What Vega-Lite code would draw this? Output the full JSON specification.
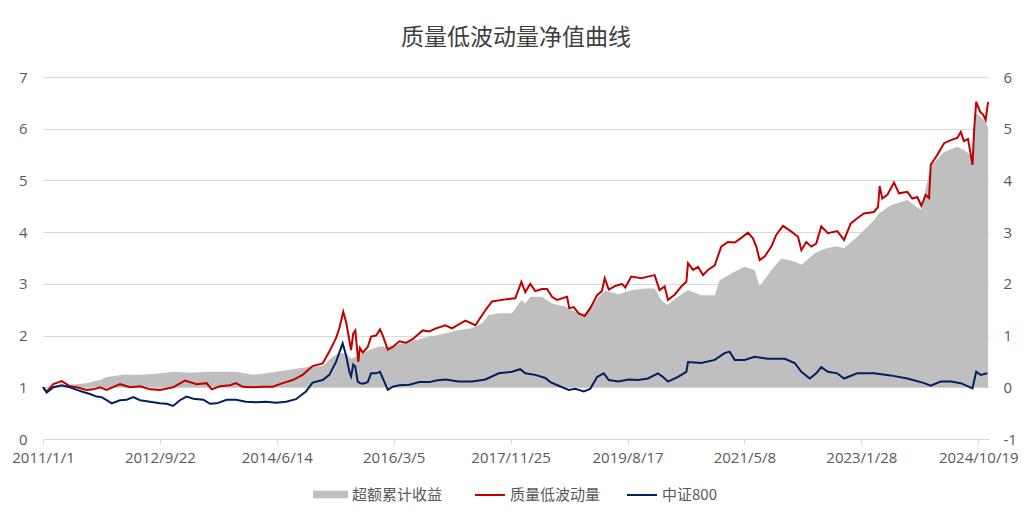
{
"$schema": "https://vega.github.io/schema/vega-lite/v6.json",
"width": 946, "height": 362,
"autosize": {"type": "none"},
"padding": {"left": 43, "top": 77, "right": 43, "bottom": 80},
"background": "white",
"title": {"text": "质量低波动量净值曲线", "font": "Noto Sans CJK SC", "fontSize": 23, "fontWeight": "normal", "color": "#404040", "anchor": "middle", "offset": 20},
"config": {"view": {"stroke": null}, "font": "Open Sans"},
"datasets": {
"excess": [
{"date":"2011/01/01","series":"超额累计收益","value":0.00},
{"date":"2011/05/27","series":"超额累计收益","value":0.05},
{"date":"2011/08/25","series":"超额累计收益","value":0.08},
{"date":"2011/09/29","series":"超额累计收益","value":0.11},
{"date":"2011/11/04","series":"超额累计收益","value":0.14},
{"date":"2011/12/10","series":"超额累计收益","value":0.20},
{"date":"2012/03/09","series":"超额累计收益","value":0.24},
{"date":"2012/06/07","series":"超额累计收益","value":0.24},
{"date":"2012/09/05","series":"超额累计收益","value":0.26},
{"date":"2012/12/02","series":"超额累计收益","value":0.30},
{"date":"2013/03/03","series":"超额累计收益","value":0.28},
{"date":"2013/06/01","series":"超额累计收益","value":0.30},
{"date":"2013/08/30","series":"超额累计收益","value":0.30},
{"date":"2013/11/06","series":"超额累计收益","value":0.30},
{"date":"2014/02/04","series":"超额累计收益","value":0.24},
{"date":"2014/05/05","series":"超额累计收益","value":0.28},
{"date":"2014/08/03","series":"超额累计收益","value":0.33},
{"date":"2014/10/31","series":"超额累计收益","value":0.38},
{"date":"2014/12/24","series":"超额累计收益","value":0.40},
{"date":"2015/02/16","series":"超额累计收益","value":0.41},
{"date":"2015/04/11","series":"超额累计收益","value":0.59},
{"date":"2015/05/17","series":"超额累计收益","value":0.66},
{"date":"2015/06/22","series":"超额累计收益","value":0.66},
{"date":"2015/07/19","series":"超额累计收益","value":0.55},
{"date":"2015/09/02","series":"超额累计收益","value":0.62},
{"date":"2015/10/25","series":"超额累计收益","value":0.72},
{"date":"2015/12/18","series":"超额累计收益","value":0.79},
{"date":"2016/02/10","series":"超额累计收益","value":0.79},
{"date":"2016/04/22","series":"超额累计收益","value":0.85},
{"date":"2016/07/21","series":"超额累计收益","value":0.93},
{"date":"2016/09/13","series":"超额累计收益","value":0.98},
{"date":"2016/10/19","series":"超额累计收益","value":1.00},
{"date":"2016/12/08","series":"超额累计收益","value":1.04},
{"date":"2017/02/18","series":"超额累计收益","value":1.11},
{"date":"2017/05/01","series":"超额累计收益","value":1.14},
{"date":"2017/06/24","series":"超额累计收益","value":1.24},
{"date":"2017/07/30","series":"超额累计收益","value":1.40},
{"date":"2017/09/22","series":"超额累计收益","value":1.43},
{"date":"2017/12/02","series":"超额累计收益","value":1.43},
{"date":"2018/01/22","series":"超额累计收益","value":1.69},
{"date":"2018/02/12","series":"超额累计收益","value":1.62},
{"date":"2018/03/11","series":"超额累计收益","value":1.75},
{"date":"2018/05/13","series":"超额累计收益","value":1.75},
{"date":"2018/07/06","series":"超额累计收益","value":1.62},
{"date":"2018/09/16","series":"超额累计收益","value":1.56},
{"date":"2018/11/09","series":"超额累计收益","value":1.46},
{"date":"2018/12/29","series":"超额累计收益","value":1.40},
{"date":"2019/02/07","series":"超额累计收益","value":1.56},
{"date":"2019/03/15","series":"超额累计收益","value":1.75},
{"date":"2019/04/19","series":"超额累计收益","value":1.86},
{"date":"2019/06/30","series":"超额累计收益","value":1.80},
{"date":"2019/09/10","series":"超额累计收益","value":1.88},
{"date":"2019/11/18","series":"超额累计收益","value":1.91},
{"date":"2020/01/10","series":"超额累计收益","value":1.91},
{"date":"2020/02/15","series":"超额累计收益","value":1.69},
{"date":"2020/03/18","series":"超额累计收益","value":1.59},
{"date":"2020/05/15","series":"超额累计收益","value":1.75},
{"date":"2020/07/08","series":"超额累计收益","value":1.88},
{"date":"2020/09/17","series":"超额累计收益","value":1.78},
{"date":"2020/11/29","series":"超额累计收益","value":1.78},
{"date":"2020/12/26","series":"超额累计收益","value":2.07},
{"date":"2021/02/26","series":"超额累计收益","value":2.20},
{"date":"2021/05/09","series":"超额累计收益","value":2.33},
{"date":"2021/07/02","series":"超额累计收益","value":2.27},
{"date":"2021/07/29","series":"超额累计收益","value":1.95},
{"date":"2021/09/30","series":"超额累计收益","value":2.27},
{"date":"2021/11/23","series":"超额累计收益","value":2.49},
{"date":"2022/02/03","series":"超额累计收益","value":2.43},
{"date":"2022/03/11","series":"超额累计收益","value":2.37},
{"date":"2022/05/22","series":"超额累计收益","value":2.59},
{"date":"2022/06/26","series":"超额累计收益","value":2.65},
{"date":"2022/08/01","series":"超额累计收益","value":2.70},
{"date":"2022/09/20","series":"超额累计收益","value":2.72},
{"date":"2022/10/27","series":"超额累计收益","value":2.69},
{"date":"2023/01/06","series":"超额累计收益","value":2.91},
{"date":"2023/04/06","series":"超额累计收益","value":3.23},
{"date":"2023/05/03","series":"超额累计收益","value":3.36},
{"date":"2023/07/05","series":"超额累计收益","value":3.52},
{"date":"2023/10/03","series":"超额累计收益","value":3.62},
{"date":"2023/12/14","series":"超额累计收益","value":3.43},
{"date":"2024/02/06","series":"超额累计收益","value":4.27},
{"date":"2024/04/18","series":"超额累计收益","value":4.55},
{"date":"2024/06/28","series":"超额累计收益","value":4.65},
{"date":"2024/08/03","series":"超额累计收益","value":4.59},
{"date":"2024/09/18","series":"超额累计收益","value":4.46},
{"date":"2024/10/08","series":"超额累计收益","value":5.30},
{"date":"2024/11/19","series":"超额累计收益","value":5.17},
{"date":"2024/12/11","series":"超额累计收益","value":5.04}
],
"nav": [
{"date":"2011/01/01","series":"质量低波动量","value":1.00},
{"date":"2011/01/21","series":"质量低波动量","value":0.92},
{"date":"2011/02/26","series":"质量低波动量","value":1.06},
{"date":"2011/04/12","series":"质量低波动量","value":1.12},
{"date":"2011/05/27","series":"质量低波动量","value":1.02},
{"date":"2011/07/02","series":"质量低波动量","value":1.00},
{"date":"2011/08/25","series":"质量低波动量","value":0.95},
{"date":"2011/09/29","series":"质量低波动量","value":0.96},
{"date":"2011/11/04","series":"质量低波动量","value":1.00},
{"date":"2011/12/10","series":"质量低波动量","value":0.95},
{"date":"2012/02/20","series":"质量低波动量","value":1.06},
{"date":"2012/04/14","series":"质量低波动量","value":1.00},
{"date":"2012/06/07","series":"质量低波动量","value":1.02},
{"date":"2012/07/31","series":"质量低波动量","value":0.96},
{"date":"2012/09/22","series":"质量低波动量","value":0.95},
{"date":"2012/12/02","series":"质量低波动量","value":1.00},
{"date":"2013/02/04","series":"质量低波动量","value":1.13},
{"date":"2013/04/08","series":"质量低波动量","value":1.06},
{"date":"2013/06/01","series":"质量低波动量","value":1.08},
{"date":"2013/06/28","series":"质量低波动量","value":0.96},
{"date":"2013/08/12","series":"质量低波动量","value":1.02},
{"date":"2013/10/05","series":"质量低波动量","value":1.04},
{"date":"2013/11/06","series":"质量低波动量","value":1.08},
{"date":"2013/12/12","series":"质量低波动量","value":1.01},
{"date":"2014/02/04","series":"质量低波动量","value":1.00},
{"date":"2014/03/30","series":"质量低波动量","value":1.01},
{"date":"2014/05/23","series":"质量低波动量","value":1.01},
{"date":"2014/07/16","series":"质量低波动量","value":1.08},
{"date":"2014/09/08","series":"质量低波动量","value":1.14},
{"date":"2014/10/31","series":"质量低波动量","value":1.24},
{"date":"2014/12/24","series":"质量低波动量","value":1.41},
{"date":"2015/02/16","series":"质量低波动量","value":1.46},
{"date":"2015/03/24","series":"质量低波动量","value":1.69},
{"date":"2015/04/29","series":"质量低波动量","value":1.95},
{"date":"2015/05/17","series":"质量低波动量","value":2.14},
{"date":"2015/06/07","series":"质量低波动量","value":2.46},
{"date":"2015/06/22","series":"质量低波动量","value":2.27},
{"date":"2015/07/10","series":"质量低波动量","value":1.91},
{"date":"2015/07/19","series":"质量低波动量","value":1.72},
{"date":"2015/07/31","series":"质量低波动量","value":2.04},
{"date":"2015/08/11","series":"质量低波动量","value":2.10},
{"date":"2015/08/19","series":"质量低波动量","value":1.80},
{"date":"2015/08/27","series":"质量低波动量","value":1.49},
{"date":"2015/09/05","series":"质量低波动量","value":1.76},
{"date":"2015/09/20","series":"质量低波动量","value":1.67},
{"date":"2015/10/17","series":"质量低波动量","value":1.78},
{"date":"2015/11/04","series":"质量低波动量","value":1.98},
{"date":"2015/12/01","series":"质量低波动量","value":2.00},
{"date":"2015/12/22","series":"质量低波动量","value":2.12},
{"date":"2016/01/06","series":"质量低波动量","value":2.00},
{"date":"2016/02/02","series":"质量低波动量","value":1.73},
{"date":"2016/02/29","series":"质量低波动量","value":1.78},
{"date":"2016/04/04","series":"质量低波动量","value":1.89},
{"date":"2016/05/10","series":"质量低波动量","value":1.86},
{"date":"2016/06/15","series":"质量低波动量","value":1.93},
{"date":"2016/08/08","series":"质量低波动量","value":2.10},
{"date":"2016/09/13","series":"质量低波动量","value":2.08},
{"date":"2016/10/19","series":"质量低波动量","value":2.14},
{"date":"2016/12/08","series":"质量低波动量","value":2.20},
{"date":"2017/01/13","series":"质量低波动量","value":2.14},
{"date":"2017/03/26","series":"质量低波动量","value":2.29},
{"date":"2017/05/19","series":"质量低波动量","value":2.20},
{"date":"2017/07/12","series":"质量低波动量","value":2.49},
{"date":"2017/08/17","series":"质量低波动量","value":2.66},
{"date":"2017/10/27","series":"质量低波动量","value":2.70},
{"date":"2017/12/20","series":"质量低波动量","value":2.72},
{"date":"2018/01/22","series":"质量低波动量","value":3.04},
{"date":"2018/02/12","series":"质量低波动量","value":2.84},
{"date":"2018/03/11","series":"质量低波动量","value":3.00},
{"date":"2018/04/07","series":"质量低波动量","value":2.86},
{"date":"2018/05/13","series":"质量低波动量","value":2.90},
{"date":"2018/06/09","series":"质量低波动量","value":2.90},
{"date":"2018/07/06","series":"质量低波动量","value":2.75},
{"date":"2018/08/02","series":"质量低波动量","value":2.69},
{"date":"2018/08/29","series":"质量低波动量","value":2.72},
{"date":"2018/09/25","series":"质量低波动量","value":2.75},
{"date":"2018/10/07","series":"质量低波动量","value":2.53},
{"date":"2018/10/31","series":"质量低波动量","value":2.55},
{"date":"2018/11/27","series":"质量低波动量","value":2.43},
{"date":"2018/12/29","series":"质量低波动量","value":2.38},
{"date":"2019/01/28","series":"质量低波动量","value":2.53},
{"date":"2019/03/06","series":"质量低波动量","value":2.78},
{"date":"2019/04/01","series":"质量低波动量","value":2.86},
{"date":"2019/04/16","series":"质量低波动量","value":3.11},
{"date":"2019/05/08","series":"质量低波动量","value":2.89},
{"date":"2019/06/12","series":"质量低波动量","value":2.96},
{"date":"2019/07/18","series":"质量低波动量","value":3.00},
{"date":"2019/08/05","series":"质量低波动量","value":2.93},
{"date":"2019/09/06","series":"质量低波动量","value":3.14},
{"date":"2019/10/30","series":"质量低波动量","value":3.11},
{"date":"2019/12/05","series":"质量低波动量","value":3.14},
{"date":"2020/01/10","series":"质量低波动量","value":3.17},
{"date":"2020/02/06","series":"质量低波动量","value":2.88},
{"date":"2020/03/04","series":"质量低波动量","value":2.95},
{"date":"2020/03/22","series":"质量低波动量","value":2.69},
{"date":"2020/04/27","series":"质量低波动量","value":2.79},
{"date":"2020/06/02","series":"质量低波动量","value":2.95},
{"date":"2020/06/29","series":"质量低波动量","value":3.04},
{"date":"2020/07/08","series":"质量低波动量","value":3.40},
{"date":"2020/08/04","series":"质量低波动量","value":3.27},
{"date":"2020/08/31","series":"质量低波动量","value":3.33},
{"date":"2020/09/27","series":"质量低波动量","value":3.17},
{"date":"2020/10/24","series":"质量低波动量","value":3.27},
{"date":"2020/11/29","series":"质量低波动量","value":3.36},
{"date":"2021/01/03","series":"质量低波动量","value":3.72},
{"date":"2021/02/08","series":"质量低波动量","value":3.81},
{"date":"2021/03/17","series":"质量低波动量","value":3.80},
{"date":"2021/04/21","series":"质量低波动量","value":3.89},
{"date":"2021/05/27","series":"质量低波动量","value":3.99},
{"date":"2021/06/23","series":"质量低波动量","value":3.88},
{"date":"2021/07/11","series":"质量低波动量","value":3.72},
{"date":"2021/07/29","series":"质量低波动量","value":3.46},
{"date":"2021/08/25","series":"质量低波动量","value":3.53},
{"date":"2021/09/30","series":"质量低波动量","value":3.72},
{"date":"2021/10/27","series":"质量低波动量","value":3.95},
{"date":"2021/12/02","series":"质量低波动量","value":4.12},
{"date":"2022/01/16","series":"质量低波动量","value":4.01},
{"date":"2022/02/21","series":"质量低波动量","value":3.91},
{"date":"2022/03/11","series":"质量低波动量","value":3.65},
{"date":"2022/04/06","series":"质量低波动量","value":3.81},
{"date":"2022/05/03","series":"质量低波动量","value":3.72},
{"date":"2022/05/30","series":"质量低波动量","value":3.78},
{"date":"2022/06/26","series":"质量低波动量","value":4.11},
{"date":"2022/08/01","series":"质量低波动量","value":3.98},
{"date":"2022/09/20","series":"质量低波动量","value":4.02},
{"date":"2022/10/27","series":"质量低波动量","value":3.85},
{"date":"2022/12/02","series":"质量低波动量","value":4.17},
{"date":"2023/01/06","series":"质量低波动量","value":4.27},
{"date":"2023/02/11","series":"质量低波动量","value":4.36},
{"date":"2023/04/06","series":"质量低波动量","value":4.39},
{"date":"2023/04/28","series":"质量低波动量","value":4.49},
{"date":"2023/05/07","series":"质量低波动量","value":4.89},
{"date":"2023/05/21","series":"质量低波动量","value":4.65},
{"date":"2023/06/17","series":"质量低波动量","value":4.72},
{"date":"2023/07/23","series":"质量低波动量","value":4.96},
{"date":"2023/08/19","series":"质量低波动量","value":4.75},
{"date":"2023/10/03","series":"质量低波动量","value":4.78},
{"date":"2023/10/30","series":"质量低波动量","value":4.65},
{"date":"2023/11/26","series":"质量低波动量","value":4.68},
{"date":"2023/12/17","series":"质量低波动量","value":4.51},
{"date":"2024/01/10","series":"质量低波动量","value":4.72},
{"date":"2024/01/28","series":"质量低波动量","value":4.66},
{"date":"2024/02/06","series":"质量低波动量","value":5.30},
{"date":"2024/03/12","series":"质量低波动量","value":5.49},
{"date":"2024/04/18","series":"质量低波动量","value":5.72},
{"date":"2024/05/24","series":"质量低波动量","value":5.78},
{"date":"2024/06/28","series":"质量低波动量","value":5.82},
{"date":"2024/07/17","series":"质量低波动量","value":5.94},
{"date":"2024/08/03","series":"质量低波动量","value":5.76},
{"date":"2024/08/25","series":"质量低波动量","value":5.80},
{"date":"2024/09/18","series":"质量低波动量","value":5.30},
{"date":"2024/09/27","series":"质量低波动量","value":5.98},
{"date":"2024/10/08","series":"质量低波动量","value":6.52},
{"date":"2024/10/29","series":"质量低波动量","value":6.33},
{"date":"2024/11/15","series":"质量低波动量","value":6.27},
{"date":"2024/11/28","series":"质量低波动量","value":6.17},
{"date":"2024/12/11","series":"质量低波动量","value":6.52},
{"date":"2011/01/01","series":"中证800","value":1.00},
{"date":"2011/01/21","series":"中证800","value":0.90},
{"date":"2011/02/26","series":"中证800","value":1.00},
{"date":"2011/04/12","series":"中证800","value":1.04},
{"date":"2011/05/27","series":"中证800","value":1.00},
{"date":"2011/07/02","series":"中证800","value":0.95},
{"date":"2011/08/06","series":"中证800","value":0.91},
{"date":"2011/09/11","series":"中证800","value":0.87},
{"date":"2011/10/17","series":"中证800","value":0.82},
{"date":"2011/11/13","series":"中证800","value":0.81},
{"date":"2011/12/10","series":"中证800","value":0.75},
{"date":"2012/01/06","series":"中证800","value":0.69},
{"date":"2012/02/20","series":"中证800","value":0.75},
{"date":"2012/03/27","series":"中证800","value":0.76},
{"date":"2012/05/02","series":"中证800","value":0.81},
{"date":"2012/06/07","series":"中证800","value":0.75},
{"date":"2012/07/31","series":"中证800","value":0.72},
{"date":"2012/09/22","series":"中证800","value":0.69},
{"date":"2012/10/29","series":"中证800","value":0.68},
{"date":"2012/12/02","series":"中证800","value":0.64},
{"date":"2013/01/08","series":"中证800","value":0.75},
{"date":"2013/02/13","series":"中证800","value":0.82},
{"date":"2013/03/21","series":"中证800","value":0.78},
{"date":"2013/05/14","series":"中证800","value":0.76},
{"date":"2013/06/19","series":"中证800","value":0.68},
{"date":"2013/07/25","series":"中证800","value":0.69},
{"date":"2013/09/17","series":"中证800","value":0.76},
{"date":"2013/11/06","series":"中证800","value":0.76},
{"date":"2013/12/30","series":"中证800","value":0.72},
{"date":"2014/02/22","series":"中证800","value":0.71},
{"date":"2014/04/17","series":"中证800","value":0.72},
{"date":"2014/06/10","series":"中证800","value":0.70},
{"date":"2014/08/03","series":"中证800","value":0.72},
{"date":"2014/09/25","series":"中证800","value":0.77},
{"date":"2014/11/18","series":"中证800","value":0.92},
{"date":"2014/12/24","series":"中证800","value":1.09},
{"date":"2015/02/16","series":"中证800","value":1.14},
{"date":"2015/03/24","series":"中证800","value":1.24},
{"date":"2015/04/29","series":"中证800","value":1.49},
{"date":"2015/06/04","series":"中证800","value":1.85},
{"date":"2015/06/22","series":"中证800","value":1.62},
{"date":"2015/07/10","series":"中证800","value":1.30},
{"date":"2015/07/19","series":"中证800","value":1.21},
{"date":"2015/07/31","series":"中证800","value":1.44},
{"date":"2015/08/11","series":"中证800","value":1.40},
{"date":"2015/08/24","series":"中证800","value":1.11},
{"date":"2015/09/05","series":"中证800","value":1.08},
{"date":"2015/09/20","series":"中证800","value":1.07},
{"date":"2015/10/17","series":"中证800","value":1.10},
{"date":"2015/11/04","series":"中证800","value":1.27},
{"date":"2015/12/01","series":"中证800","value":1.27},
{"date":"2015/12/22","series":"中证800","value":1.30},
{"date":"2016/01/14","series":"中证800","value":1.11},
{"date":"2016/02/02","series":"中证800","value":0.95},
{"date":"2016/02/29","series":"中证800","value":1.01},
{"date":"2016/04/04","series":"中证800","value":1.04},
{"date":"2016/05/28","series":"中证800","value":1.05},
{"date":"2016/07/21","series":"中证800","value":1.10},
{"date":"2016/09/13","series":"中证800","value":1.10},
{"date":"2016/10/19","series":"中证800","value":1.13},
{"date":"2016/12/08","series":"中证800","value":1.15},
{"date":"2017/02/18","series":"中证800","value":1.11},
{"date":"2017/05/01","series":"中证800","value":1.11},
{"date":"2017/07/12","series":"中证800","value":1.15},
{"date":"2017/09/22","series":"中证800","value":1.27},
{"date":"2017/12/02","series":"中证800","value":1.30},
{"date":"2018/01/16","series":"中证800","value":1.35},
{"date":"2018/02/12","series":"中证800","value":1.27},
{"date":"2018/04/07","series":"中证800","value":1.24},
{"date":"2018/05/31","series":"中证800","value":1.18},
{"date":"2018/06/27","series":"中证800","value":1.10},
{"date":"2018/08/11","series":"中证800","value":1.03},
{"date":"2018/10/04","series":"中证800","value":0.95},
{"date":"2018/11/09","series":"中证800","value":0.97},
{"date":"2018/12/24","series":"中证800","value":0.92},
{"date":"2019/01/28","series":"中证800","value":0.97},
{"date":"2019/03/06","series":"中证800","value":1.20},
{"date":"2019/04/11","series":"中证800","value":1.27},
{"date":"2019/05/08","series":"中证800","value":1.14},
{"date":"2019/06/30","series":"中证800","value":1.11},
{"date":"2019/08/23","series":"中证800","value":1.15},
{"date":"2019/10/13","series":"中证800","value":1.14},
{"date":"2019/12/05","series":"中证800","value":1.17},
{"date":"2020/01/28","series":"中证800","value":1.27},
{"date":"2020/02/24","series":"中证800","value":1.20},
{"date":"2020/03/22","series":"中证800","value":1.11},
{"date":"2020/05/15","series":"中证800","value":1.20},
{"date":"2020/06/29","series":"中证800","value":1.30},
{"date":"2020/07/08","series":"中证800","value":1.49},
{"date":"2020/09/17","series":"中证800","value":1.47},
{"date":"2020/11/29","series":"中证800","value":1.53},
{"date":"2021/01/21","series":"中证800","value":1.66},
{"date":"2021/02/17","series":"中证800","value":1.69},
{"date":"2021/03/17","series":"中证800","value":1.53},
{"date":"2021/05/09","series":"中证800","value":1.53},
{"date":"2021/07/02","series":"中证800","value":1.59},
{"date":"2021/09/12","series":"中证800","value":1.55},
{"date":"2021/12/11","series":"中证800","value":1.55},
{"date":"2022/02/03","series":"中证800","value":1.47},
{"date":"2022/03/11","series":"中证800","value":1.30},
{"date":"2022/04/25","series":"中证800","value":1.17},
{"date":"2022/05/30","series":"中证800","value":1.27},
{"date":"2022/06/26","series":"中证800","value":1.39},
{"date":"2022/08/01","series":"中证800","value":1.30},
{"date":"2022/09/20","series":"中证800","value":1.27},
{"date":"2022/10/27","series":"中证800","value":1.17},
{"date":"2023/01/06","series":"中证800","value":1.27},
{"date":"2023/04/06","series":"中证800","value":1.27},
{"date":"2023/07/05","series":"中证800","value":1.23},
{"date":"2023/10/03","series":"中证800","value":1.17},
{"date":"2024/01/02","series":"中证800","value":1.08},
{"date":"2024/02/06","series":"中证800","value":1.03},
{"date":"2024/03/31","series":"中证800","value":1.11},
{"date":"2024/05/24","series":"中证800","value":1.11},
{"date":"2024/07/17","series":"中证800","value":1.08},
{"date":"2024/09/18","series":"中证800","value":0.98},
{"date":"2024/10/08","series":"中证800","value":1.30},
{"date":"2024/11/01","series":"中证800","value":1.24},
{"date":"2024/12/07","series":"中证800","value":1.27}
]
},
"encoding": {
  "x": {"field": "date", "type": "temporal",
    "scale": {"domain": [{"year": 2011, "month": 1, "date": 1}, {"year": 2024, "month": 12, "date": 16}]},
    "axis": {"title": null, "format": "%Y/%-m/%-d", "grid": false,
      "values": [{"year":2011,"month":1,"date":1},{"year":2012,"month":9,"date":22},{"year":2014,"month":6,"date":14},{"year":2016,"month":3,"date":5},{"year":2017,"month":11,"date":25},{"year":2019,"month":8,"date":17},{"year":2021,"month":5,"date":8},{"year":2023,"month":1,"date":28},{"year":2024,"month":10,"date":19}],
      "labelFont": "Open Sans", "labelFontSize": 15, "labelColor": "#595959", "domainColor": "#d9d9d9", "tickColor": "#d9d9d9", "tickSize": 5, "labelPadding": 6, "labelOverlap": false, "labelFlush": false}}
},
"layer": [
  {"data": {"name": "excess"},
   "mark": {"type": "area", "color": "#bfbfbf", "opacity": 1},
   "encoding": {
     "y": {"field": "value", "type": "quantitative", "scale": {"domain": [-1, 6], "nice": false},
       "axis": {"orient": "right", "title": null, "values": [-1,0,1,2,3,4,5,6], "labelExpr": "'' + datum.value", "grid": false, "domain": false, "ticks": false, "labelPadding": 14, "labelFont": "Open Sans", "labelFontSize": 15, "labelColor": "#595959"}},
     "y2": {"datum": 0},
     "fill": {"field": "series", "type": "nominal", "scale": {"domain": ["超额累计收益"], "range": ["#bfbfbf"]},
       "legend": {"orient": "none", "legendX": 270, "legendY": 400, "direction": "horizontal", "title": null, "symbolType": "M-1,-0.22H1V0.22H-1Z", "symbolSize": 1225, "symbolStrokeWidth": 0, "labelFont": "Noto Sans CJK SC", "labelFontSize": 15, "labelColor": "#595959", "labelOffset": 4, "padding": 0}}
   }},
  {"data": {"name": "nav"},
   "mark": {"type": "line", "strokeWidth": 2},
   "encoding": {
     "y": {"field": "value", "type": "quantitative", "scale": {"domain": [0, 7], "nice": false},
       "axis": {"orient": "left", "title": null, "values": [0,1,2,3,4,5,6,7], "grid": true, "gridColor": "#d9d9d9", "gridWidth": 1, "domain": false, "ticks": false, "labelPadding": 16, "labelFont": "Open Sans", "labelFontSize": 15, "labelColor": "#595959"}},
     "stroke": {"field": "series", "type": "nominal", "scale": {"domain": ["质量低波动量", "中证800"], "range": ["#c00000", "#002060"]},
       "legend": {"orient": "none", "legendX": 431, "legendY": 402, "direction": "horizontal", "title": null, "symbolType": "stroke", "symbolSize": 900, "symbolStrokeWidth": 2, "columnPadding": 22, "labelFont": "Noto Sans CJK SC", "labelFontSize": 15, "labelColor": "#595959", "labelOffset": 4, "padding": 0}}
   }}
],
"resolve": {"scale": {"y": "independent", "fill": "independent", "stroke": "independent"}}
}
